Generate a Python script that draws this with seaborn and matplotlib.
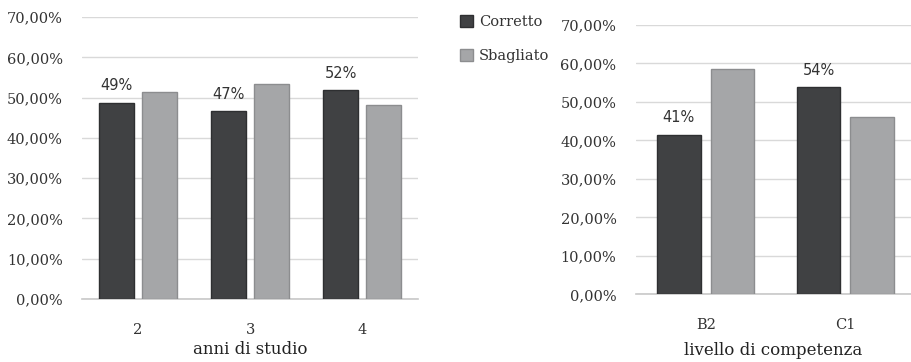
import matplotlib
matplotlib.use("Agg")
import matplotlib.pyplot as plt
import seaborn as sns
import pandas as pd
from matplotlib.patches import Patch
from matplotlib.ticker import FuncFormatter

# ---- data ----
anni = ["2", "3", "4"]
anni_corretto = [0.487, 0.466, 0.518]
anni_sbagliato = [0.513, 0.534, 0.482]

livelli = ["B2", "C1"]
liv_corretto = [0.414, 0.538]
liv_sbagliato = [0.586, 0.462]

serie = ["Corretto", "Sbagliato"]
yticks = [0, 0.1, 0.2, 0.3, 0.4, 0.5, 0.6, 0.7]

colors = {"Corretto": "#404143", "Sbagliato": "#a5a6a8"}
edges = {"Corretto": "#2e2f31", "Sbagliato": "#8c8d8f"}

sns.set_theme(style="white")
plt.rcParams["font.family"] = ["DejaVu Serif"]

fig = plt.figure(figsize=(9.11, 3.62), dpi=100)
ax1 = fig.add_axes([0.090, 0.174, 0.369, 0.779])
ax2 = fig.add_axes([0.698, 0.187, 0.302, 0.744])


def make_df(cats, c, s):
    rows = []
    for cat, v in zip(cats, c):
        rows.append({"cat": cat, "serie": "Corretto", "val": v})
    for cat, v in zip(cats, s):
        rows.append({"cat": cat, "serie": "Sbagliato", "val": v})
    return pd.DataFrame(rows)


def draw(ax, cats, c, s, xlabel, xlim, labelpad):
    df = make_df(cats, c, s)
    sns.barplot(data=df, x="cat", y="val", hue="serie", order=cats,
                hue_order=serie, palette=colors, width=0.77, gap=0.19,
                ax=ax, legend=False, zorder=3, linewidth=1.0)
    for cont, name in zip(ax.containers, serie):
        for bar in cont:
            bar.set_edgecolor(edges[name])
    for bar, v in zip(ax.containers[0], c):
        ax.annotate(f"{round(v * 100):.0f}%",
                    (bar.get_x() + bar.get_width() / 2, bar.get_height()),
                    xytext=(0, 7), textcoords="offset points",
                    ha="center", va="bottom", fontsize=10.5,
                    family="DejaVu Sans", color="#333333")
    ax.set_ylim(0, 0.7)
    ax.set_xlim(*xlim)
    ax.set_yticks(yticks)
    ax.yaxis.set_major_formatter(FuncFormatter(
        lambda v, p: f"{v * 100:.2f}%".replace(".", ",")))
    ax.grid(axis="y", color="#d9d9d9", linewidth=1.0, zorder=0)
    ax.set_axisbelow(True)
    for sp in ["top", "right", "left"]:
        ax.spines[sp].set_visible(False)
    ax.spines["bottom"].set_color("#c8c8c8")
    ax.spines["bottom"].set_linewidth(1.2)
    ax.tick_params(axis="y", length=0, pad=14, labelsize=10.5, labelcolor="#333333")
    ax.tick_params(axis="x", length=0, pad=17, labelsize=10.5, labelcolor="#333333")
    ax.set_xlabel(xlabel, fontsize=12, color="#222222", labelpad=labelpad)
    ax.set_ylabel("")


draw(ax1, anni, anni_corretto, anni_sbagliato, "anni di studio", (-0.5, 2.5), 3)
draw(ax2, livelli, liv_corretto, liv_sbagliato, "livello di competenza", (-0.5, 1.47), 7)

handles = [Patch(facecolor=colors[n], edgecolor=edges[n], label=n) for n in serie]
fig.legend(handles=handles, loc="upper left", bbox_to_anchor=(0.4905, 0.994),
           frameon=False, fontsize=10.5, handlelength=0.9, handleheight=0.9,
           handletextpad=0.4, labelspacing=1.35, labelcolor="#333333")

fig.savefig("out.png", dpi=100)
